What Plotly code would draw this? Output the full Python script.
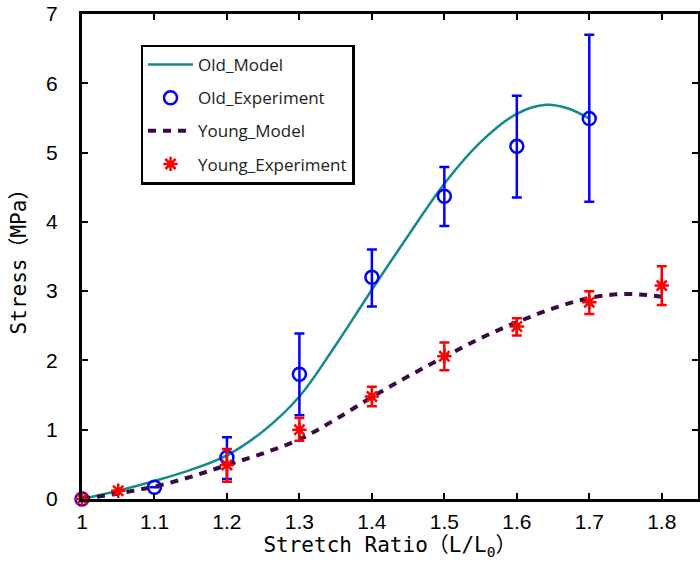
import plotly.graph_objects as go

# Experimental data
old_x = [1.0, 1.1, 1.2, 1.3, 1.4, 1.5, 1.6, 1.7]
old_y = [0.0, 0.17, 0.60, 1.80, 3.20, 4.37, 5.09, 5.49]
old_err_plus = [0.0, 0.0, 0.29, 0.59, 0.40, 0.42, 0.73, 1.21]
old_err_minus = [0.0, 0.0, 0.31, 0.59, 0.42, 0.43, 0.74, 1.20]

young_x = [1.0, 1.05, 1.2, 1.3, 1.4, 1.5, 1.6, 1.7, 1.8]
young_y = [0.0, 0.12, 0.49, 1.00, 1.48, 2.06, 2.49, 2.84, 3.08]
young_err_plus = [0.0, 0.0, 0.23, 0.17, 0.14, 0.20, 0.12, 0.16, 0.28]
young_err_minus = [0.0, 0.0, 0.24, 0.16, 0.14, 0.20, 0.13, 0.17, 0.28]

# Model curves
old_model_x = [1.0, 1.05, 1.1, 1.15, 1.2, 1.25, 1.3, 1.35, 1.4, 1.45, 1.5, 1.55, 1.6, 1.64, 1.67, 1.7]
old_model_y = [0.0, 0.12, 0.26, 0.42, 0.63, 0.98, 1.48, 2.22, 3.02, 3.80, 4.55, 5.15, 5.56, 5.69, 5.64, 5.49]

young_model_x = [1.0, 1.05, 1.1, 1.15, 1.2, 1.25, 1.3, 1.35, 1.4, 1.45, 1.5, 1.55, 1.6, 1.65, 1.7, 1.75, 1.8]
young_model_y = [0.0, 0.08, 0.18, 0.32, 0.49, 0.66, 0.86, 1.15, 1.47, 1.77, 2.05, 2.32, 2.55, 2.75, 2.90, 2.96, 2.92]

x_ticks = [1.0, 1.1, 1.2, 1.3, 1.4, 1.5, 1.6, 1.7, 1.8]
x_ticklabels = ["1", "1.1", "1.2", "1.3", "1.4", "1.5", "1.6", "1.7", "1.8"]
y_ticks = [0, 1, 2, 3, 4, 5, 6, 7]

fig = go.Figure()

fig.add_trace(go.Scatter(
    x=old_model_x, y=old_model_y, mode="lines", name="Old_Model",
    line=dict(color="#12898a", width=2.5, shape="spline"),
))
fig.add_trace(go.Scatter(
    x=old_x, y=old_y, mode="markers", name="Old_Experiment",
    marker=dict(symbol="circle-open", size=13, color="#0000ff", line=dict(width=2.5, color="#0000ff")),
    error_y=dict(type="data", array=old_err_plus, arrayminus=old_err_minus,
                 color="#0000ff", thickness=2.5, width=5),
    cliponaxis=False,
))
fig.add_trace(go.Scatter(
    x=young_model_x, y=young_model_y, mode="lines", name="Young_Model",
    line=dict(color="#3a0a45", width=4, dash="8px,7px", shape="spline"),
))
fig.add_trace(go.Scatter(
    x=young_x, y=young_y, mode="markers", name="Young_Experiment",
    marker=dict(symbol="asterisk-open", size=12, color="#ff0000", line=dict(width=2.5, color="#ff0000")),
    error_y=dict(type="data", array=young_err_plus, arrayminus=young_err_minus,
                 color="#ff0000", thickness=2.5, width=5),
    cliponaxis=False,
))

axis_common = dict(
    showline=True, linecolor="black", linewidth=3, mirror="ticks",
    ticks="inside", ticklen=6, tickwidth=1.5, tickcolor="black",
    showgrid=False, zeroline=False, automargin=False,
)

fig.update_layout(
    width=700, height=583,
    margin=dict(l=82, r=2, t=14, b=84),
    plot_bgcolor="white", paper_bgcolor="white",
    font=dict(family="Liberation Sans Narrow, Liberation Sans, sans-serif", color="black", size=21),
    showlegend=True,
    legend=dict(
        x=0.095, y=0.937, xanchor="left", yanchor="top",
        bgcolor="white", bordercolor="black", borderwidth=2.5,
        font=dict(family="Open Sans, Noto Sans, sans-serif", size=17, color="#222"),
        tracegroupgap=8, itemwidth=45,
    ),
    xaxis=dict(
        range=[1.0, 1.85], tickvals=x_ticks, ticktext=x_ticklabels,
        title=dict(text="Stretch Ratio（L/L<sub>0</sub>）",
                   font=dict(family="DejaVu Sans Mono, Noto Sans CJK SC", size=21), standoff=4),
        ticklabelstandoff=2,
        **axis_common,
    ),
    yaxis=dict(
        range=[0, 7], tickvals=y_ticks,
        title=dict(text="Stress（MPa）",
                   font=dict(family="DejaVu Sans Mono, Noto Sans CJK SC", size=21), standoff=14),
        ticklabelstandoff=17,
        **axis_common,
    ),
)
for i, tr in enumerate(fig.data):
    tr.legendgroup = f"g{i}"

fig.write_html(
    "out.html",
    config={"displayModeBar": False},
    post_script="document.body.style.margin='0px';document.body.style.overflow='hidden';",
)
